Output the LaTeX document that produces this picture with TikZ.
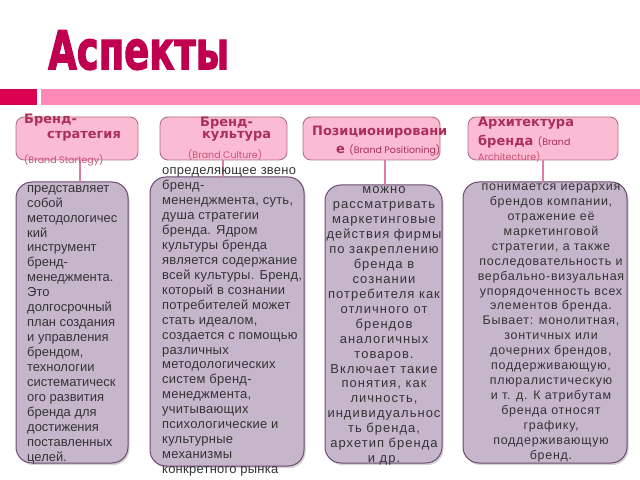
\documentclass[tikz,border=0pt]{standalone}
\usepackage{fontspec}
\usetikzlibrary{shadows}
\newfontfamily\titlefont[BoldFeatures={FakeBold=2.5}]{DejaVu Sans Condensed}
\newfontfamily\headfont{DejaVu Sans}
\newfontfamily\latfont{Poppins}
\newfontfamily\bodyfont{Liberation Sans}
\newfontfamily\bodyfontA[LetterSpace=2]{Liberation Sans}
\newfontfamily\bodyfontB[LetterSpace=8]{Liberation Sans}
\newfontfamily\bodyfontC[LetterSpace=6]{Liberation Sans}
\definecolor{titlecol}{HTML}{C0004E}
\definecolor{barred}{HTML}{DC0050}
\definecolor{barpink}{HTML}{FF88B8}
\definecolor{headfill}{HTML}{FBBBD2}
\definecolor{headdraw}{HTML}{B0708E}
\definecolor{headtext}{HTML}{A8305A}
\definecolor{lattext}{HTML}{C85078}
\definecolor{bodyfill}{HTML}{C6B6CC}
\definecolor{bodydraw}{HTML}{6B4A70}
\definecolor{bodytext}{HTML}{333333}
\definecolor{arrowcol}{HTML}{E07AA8}
\tikzset{
  headbox/.style={draw=headdraw, fill=headfill, line width=0.9bp, rounded corners=8bp},
  bodybox/.style={draw=bodydraw, fill=bodyfill, line width=1bp, rounded corners=16bp,
    drop shadow={shadow xshift=1.5bp, shadow yshift=-2bp, opacity=0.35}},
  headtxt/.style={inner sep=0, anchor=west, text=headtext, font=\headfont\bfseries\fontsize{13}{15}\selectfont},
  lattxt/.style={inner sep=0, anchor=west, text=lattext, font=\latfont\fontsize{9.5}{11}\selectfont},
  bodytxt/.style={inner sep=0, text=bodytext},
  link/.style={draw=arrowcol, line width=2bp}
}
\begin{document}
\begin{tikzpicture}[x=1bp,y=-1bp]
\useasboundingbox (0,0) rectangle (640,480);
% title
\node[inner sep=0, anchor=north west, text=titlecol] (title) at (48,30)
  {\resizebox{181bp}{39bp}{\titlefont\bfseries Аспекты}};
% bar
\fill[barred] (0,89) rectangle (37,105);
\fill[barpink] (41,89) rectangle (640,105);
% header boxes
\draw[headbox] (16,117) rectangle (138,160);
\draw[headbox] (160,117) rectangle (287,160);
\draw[headbox] (303,117) rectangle (440,160);
\draw[headbox] (468,117) rectangle (618,160);
\coordinate (h1) at (80,160);
\coordinate (h2) at (223,160);
\coordinate (h3) at (385,160);
\coordinate (h4) at (543,160);
% body boxes
\draw[bodybox] (16,182) rectangle (128,463);
\draw[bodybox] (150,177) rectangle (304,466);
\draw[bodybox] (325,185) rectangle (442,463);
\draw[bodybox] (463,182) rectangle (627,463);
\coordinate (b1) at (80,182);
\coordinate (b2) at (223,177);
\coordinate (b3) at (385,185);
\coordinate (b4) at (543,182);
\draw[link] (h1) -- (b1);
\draw[link] (h2) -- (b2);
\draw[link] (h3) -- (b3);
\draw[link] (h4) -- (b4);
% header texts
\node[headtxt] (t1a) at (24,120) {Бренд-};
\node[headtxt] (t1b) at (47,136) {стратегия};
\node[lattxt] (t1c) at (24,160) {(Brand Startegy)};
\node[headtxt] (t2a) at (200,123) {Бренд-};
\node[headtxt] (t2b) at (202,136) {культура};
\node[lattxt] (t2c) at (188,155) {(Brand Culture)};
\node[headtxt] (t3a) at (312,132) {Позиционировани};
\node[headtxt] (t3b) at (336,150) {е \latfont\mdseries\fontsize{9.5}{11}\selectfont (Brand Positioning)};
\node[headtxt] (t4a) at (478,123) {Архитектура};
\node[headtxt] (t4b) at (478,142) {бренда \latfont\mdseries\fontsize{9.5}{11}\selectfont (Brand};
\node[lattxt] (t4c) at (478,157) {Architecture)};
% body texts
\node[bodytxt, anchor=north west, align=left, font=\bodyfont\fontsize{13}{15}\selectfont] (x1) at (27,185)
 {представляет\\собой\\методологичес\\кий\\инструмент\\бренд-\\менеджмента.\\Это\\долгосрочный\\план создания\\и управления\\брендом,\\технологии\\систематическ\\ого развития\\бренда для\\достижения\\поставленных\\целей.};
\node[bodytxt, anchor=north west, align=left, font=\bodyfontA\fontsize{13}{15}\selectfont] (x2) at (162,167.5)
 {определяющее звено\\бренд-\\мененджмента, суть,\\душа стратегии\\бренда. Ядром\\культуры бренда\\является содержание\\всей культуры. Бренд,\\который в сознании\\потребителей может\\стать идеалом,\\создается с помощью\\различных\\методологических\\систем бренд-\\менеджмента,\\учитывающих\\психологические и\\культурные\\механизмы\\конкретного рынка};
\node[bodytxt, anchor=north, align=center, font=\bodyfontB\fontsize{13}{15}\selectfont] (x3) at (384,186.5)
 {можно\\рассматривать\\маркетинговые\\действия фирмы\\по закреплению\\бренда в\\сознании\\потребителя как\\отличного от\\брендов\\аналогичных\\товаров.\\Включает такие\\понятия, как\\личность,\\индивидуальнос\\ть бренда,\\архетип бренда\\и др.};
\node[bodytxt, anchor=north, align=center, font=\bodyfontC\fontsize{12.5}{15}\selectfont] (x4) at (551,183.5)
 {понимается иерархия\\брендов компании,\\отражение её\\маркетинговой\\стратегии, а также\\последовательность и\\вербально-визуальная\\упорядоченность всех\\элементов бренда.\\Бывает: монолитная,\\зонтичных или\\дочерних брендов,\\поддерживающую,\\плюралистическую\\и т. д. К атрибутам\\бренда относят\\графику,\\поддерживающую\\бренд.};
\end{tikzpicture}
\end{document}
